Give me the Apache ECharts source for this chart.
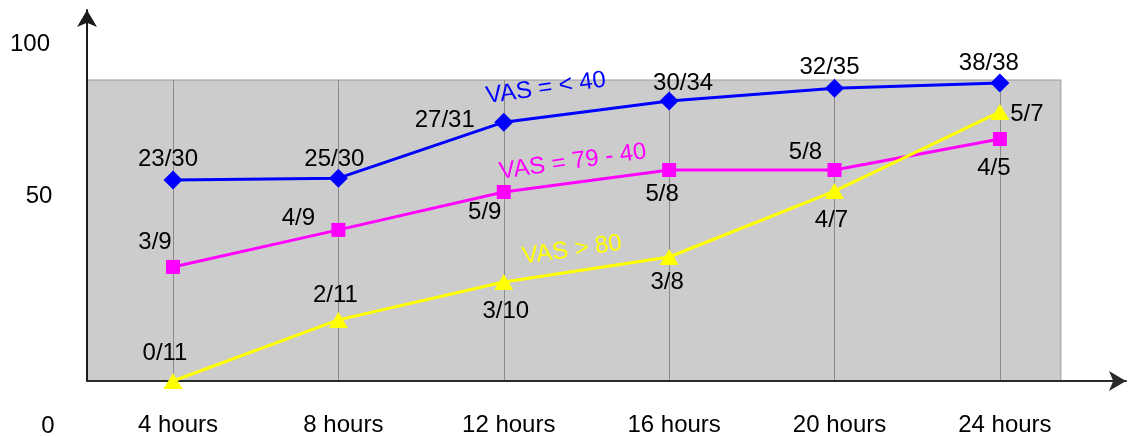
<!DOCTYPE html>
<html><head><meta charset="utf-8">
<script src="https://cdn.jsdelivr.net/npm/echarts@6/dist/echarts.min.js"></script>
<style>html,body{margin:0;padding:0;background:#fff}#c{width:1128px;height:437px}</style>
</head><body><div id="c"></div>
<script>
// ---- data ----
const categories = ['4 hours', '8 hours', '12 hours', '16 hours', '20 hours', '24 hours'];
const hours = [4, 8, 12, 16, 20, 24];
const seriesNames = ['VAS = < 40', 'VAS = 79 - 40', 'VAS > 80'];
const vasLow = [66.8, 67.4, 86.0, 93.0, 97.3, 99.0];
const vasMid = [37.9, 50.2, 62.8, 70.1, 70.1, 80.4];
const vasHigh = [0, 20.3, 32.9, 41.2, 63.1, 89.4];
const vasLowLabels = ['23/30', '25/30', '27/31', '30/34', '32/35', '38/38'];
const vasMidLabels = ['3/9', '4/9', '5/9', '5/8', '5/8', '4/5'];
const vasHighLabels = ['0/11', '2/11', '3/10', '3/8', '4/7', '5/7'];
const yTickLabels = ['100', '50', '0'];

// ---- layout / style ----
const FONT = '"Liberation Sans", Arial, Helvetica, sans-serif';
const X_MIN = 1.92, X_MAX = 27.05, GREY_RIGHT = 25.475;
const Y_MAX = 123.26, GREY_TOP = 100;
const lowOffsets = [[-5, -21], [-4, -19], [-59, -2], [14, -18], [-5, -21], [-11, -20]];
const midOffsets = [[-18, -25], [-40, -12], [-19, 20], [-7, 24], [-29, -18], [-6, 29]];
const highOffsets = [[-8, -28], [-3, -25], [2, 29], [-2, 25], [-3, 29], [27, 2]];
const nameLabelAt = [[13.02, 97.3], [13.67, 72.8], [13.65, 43.5]];
const yTickPos = [[30, 44], [39, 196], [48, 426]];

function buildData(vals, labels, offsets) {
  return vals.map((v, i) => ({
    value: [hours[i], v],
    label: { show: true, formatter: labels[i], position: 'inside', offset: offsets[i] }
  }));
}
function nameMark(i, color) {
  return {
    symbol: 'circle', symbolSize: 0, silent: true,
    data: [{ name: seriesNames[i], coord: nameLabelAt[i] }],
    label: { show: true, formatter: '{b}', position: 'inside', rotate: 8,
      color: color, fontSize: 24, fontFamily: FONT }
  };
}
const labelStyle = { color: '#000', fontSize: 24, fontFamily: FONT };

const chart = echarts.init(document.getElementById('c'), null, { renderer: 'canvas' });
chart.setOption({
  animation: false,
  backgroundColor: '#fff',
  textStyle: { fontFamily: FONT },
  grid: { left: 87, right: 2, top: 10, bottom: 56, containLabel: false },
  xAxis: {
    type: 'value', min: X_MIN, max: X_MAX, z: 5,
    axisLine: { show: true, lineStyle: { color: '#2a2a2a', width: 2 },
      symbol: ['none', 'arrow'], symbolSize: [15, 17] },
    axisTick: { show: false },
    splitLine: { show: false },
    axisLabel: { customValues: hours, margin: 32, color: '#000', fontSize: 24, fontFamily: FONT,
      padding: [0, 0, 0, 10],
      formatter: v => categories[hours.indexOf(v)] || '' }
  },
  yAxis: {
    type: 'value', min: 0, max: Y_MAX, z: 5,
    axisLine: { show: true, lineStyle: { color: '#1a1a1a', width: 2 },
      symbol: ['none', 'arrow'], symbolSize: [15, 17] },
    axisTick: { show: false },
    splitLine: { show: false },
    axisLabel: { show: false }
  },
  graphic: yTickLabels.map((t, i) => ({
    type: 'text', x: yTickPos[i][0], y: yTickPos[i][1], silent: true,
    style: { text: t, fill: '#000', fontSize: 24, fontFamily: FONT, align: 'center', verticalAlign: 'middle' }
  })),
  series: [
    {
      type: 'line', data: [], z: 1, silent: true,
      markArea: { silent: true,
        itemStyle: { color: '#cccccc', borderColor: '#9a9a9a', borderWidth: 1 },
        data: [[{ coord: [X_MIN, 0] }, { coord: [GREY_RIGHT, GREY_TOP] }]] },
      markLine: { silent: true, symbol: ['none', 'none'], label: { show: false },
        lineStyle: { color: '#8a8a8a', width: 1, type: 'solid' },
        data: hours.map(h => [{ coord: [h, 0] }, { coord: [h, GREY_TOP] }]) }
    },
    {
      name: seriesNames[0], type: 'line', z: 10, data: buildData(vasLow, vasLowLabels, lowOffsets),
      symbol: 'diamond', symbolSize: [19, 19],
      lineStyle: { color: '#0000ff', width: 3 }, itemStyle: { color: '#0000ff' },
      label: labelStyle, markPoint: nameMark(0, '#0000ff')
    },
    {
      name: seriesNames[1], type: 'line', z: 10, data: buildData(vasMid, vasMidLabels, midOffsets),
      symbol: 'rect', symbolSize: [14, 14],
      lineStyle: { color: '#ff00ff', width: 3 }, itemStyle: { color: '#ff00ff' },
      label: labelStyle, markPoint: nameMark(1, '#ff00ff')
    },
    {
      name: seriesNames[2], type: 'line', z: 10, data: buildData(vasHigh, vasHighLabels, highOffsets),
      symbol: 'triangle', symbolSize: [19, 16],
      lineStyle: { color: '#ffff00', width: 3 }, itemStyle: { color: '#ffff00' },
      label: labelStyle, markPoint: nameMark(2, '#ffff00')
    }
  ]
});
</script></body></html>
